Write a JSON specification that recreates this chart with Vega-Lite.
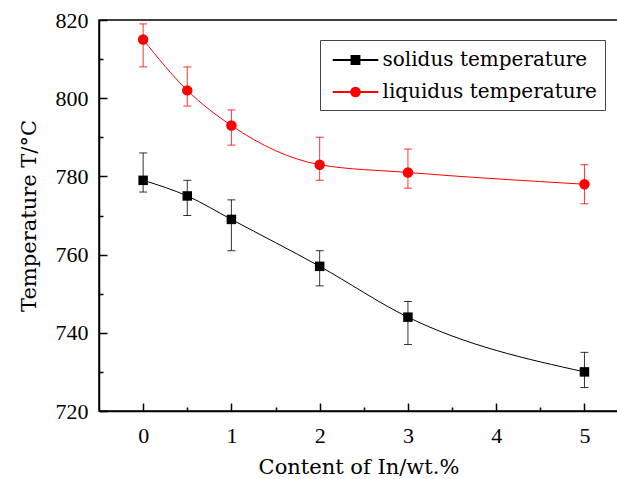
{
  "$schema": "https://vega.github.io/schema/vega-lite/v6.json",
  "width": 519,
  "height": 391,
  "autosize": "none",
  "padding": {"left": 99, "top": 20, "right": 0, "bottom": 68},
  "background": "white",
  "config": {
    "view": {"stroke": "black", "strokeWidth": 1.5},
    "axis": {"grid": false, "domainColor": "black", "domainWidth": 1.5, "tickColor": "black", "tickWidth": 1.5, "labelColor": "black", "titleColor": "black"}
  },
  "data": {
    "values": [
      {"series": "solidus temperature", "x": 0, "y": 779, "lo": 776, "hi": 786},
      {"series": "solidus temperature", "x": 0.5, "y": 775, "lo": 770, "hi": 779},
      {"series": "solidus temperature", "x": 1, "y": 769, "lo": 761, "hi": 774},
      {"series": "solidus temperature", "x": 2, "y": 757, "lo": 752, "hi": 761},
      {"series": "solidus temperature", "x": 3, "y": 744, "lo": 737, "hi": 748},
      {"series": "solidus temperature", "x": 5, "y": 730, "lo": 726, "hi": 735},
      {"series": "liquidus temperature", "x": 0, "y": 815, "lo": 808, "hi": 819},
      {"series": "liquidus temperature", "x": 0.5, "y": 802, "lo": 798, "hi": 808},
      {"series": "liquidus temperature", "x": 1, "y": 793, "lo": 788, "hi": 797},
      {"series": "liquidus temperature", "x": 2, "y": 783, "lo": 779, "hi": 790},
      {"series": "liquidus temperature", "x": 3, "y": 781, "lo": 777, "hi": 787},
      {"series": "liquidus temperature", "x": 5, "y": 778, "lo": 773, "hi": 783}
    ]
  },
  "resolve": {"axis": {"x": "independent", "y": "independent"}},
  "layer": [
    {
      "mark": {"type": "point", "filled": true, "size": 0, "opacity": 1},
      "encoding": {
        "x": {"field": "x", "type": "quantitative", "scale": {"domain": [-0.5, 5.38], "nice": false, "zero": false}, "axis": null},
        "y": {"field": "y", "type": "quantitative", "scale": {"domain": [720, 820], "nice": false, "zero": false}, "axis": null},
        "color": {"field": "series", "type": "nominal",
          "scale": {"domain": ["solidus temperature", "liquidus temperature"], "range": ["#000000", "#ff0000"]},
          "legend": {
            "orient": "none", "legendX": 221, "legendY": 20, "title": null,
            "strokeColor": "#444444", "padding": 8,
            "symbolSize": 484, "symbolOffset": 15.5, "labelOffset": 15, "rowPadding": 10,
            "labelFont": "DejaVu Serif", "labelFontSize": 20, "labelColor": "black", "labelLimit": 400
          }},
        "shape": {"field": "series", "type": "nominal",
          "scale": {"domain": ["solidus temperature", "liquidus temperature"],
            "range": [
              "M-2,-0.03H-0.38V0.03H-2Z M0.38,-0.03H2V0.03H0.38Z M-0.38,-0.38H0.38V0.38H-0.38Z",
              "M-2,-0.03H-0.4V0.03H-2Z M0.4,-0.03H2V0.03H0.4Z M0.42,0A0.42,0.42 0 1,1 -0.42,0A0.42,0.42 0 1,1 0.42,0Z"
            ]},
          "legend": {
            "orient": "none", "legendX": 221, "legendY": 20, "title": null,
            "strokeColor": "#444444", "padding": 8,
            "symbolSize": 484, "symbolOffset": 15.5, "labelOffset": 15, "rowPadding": 10,
            "labelFont": "DejaVu Serif", "labelFontSize": 20, "labelColor": "black", "labelLimit": 400
          }}
      }
    },
    {
      "mark": {"type": "line", "interpolate": "monotone", "strokeWidth": 1},
      "encoding": {
        "x": {"field": "x", "type": "quantitative",
          "axis": {"orient": "bottom", "values": [0, 1, 2, 3, 4, 5], "tickSize": -8, "labelPadding": 22, "labelFont": "Liberation Serif", "labelFontSize": 22, "title": "Content of In/wt.%", "titleFont": "DejaVu Serif", "titleFontSize": 21, "titleFontWeight": "normal", "titlePadding": 10}},
        "y": {"field": "y", "type": "quantitative",
          "axis": {"orient": "left", "values": [720, 740, 760, 780, 800, 820], "tickSize": -8, "labelPadding": 19, "labelFont": "Liberation Serif", "labelFontSize": 22, "title": "Temperature T/°C", "titleFont": "DejaVu Serif", "titleFontSize": 21, "titleFontWeight": "normal", "titlePadding": 16}},
        "color": {"field": "series", "type": "nominal", "legend": null}
      }
    },
    {
      "mark": {"type": "errorbar", "ticks": {"size": 8}, "thickness": 1, "opacity": 0.8},
      "encoding": {
        "x": {"field": "x", "type": "quantitative", "axis": null},
        "y": {"field": "lo", "type": "quantitative", "axis": null},
        "y2": {"field": "hi"},
        "color": {"field": "series", "type": "nominal", "legend": null}
      }
    },
    {
      "transform": [{"filter": "datum.series === 'solidus temperature'"}],
      "mark": {"type": "point", "filled": true, "opacity": 1, "size": 90, "shape": "square"},
      "encoding": {
        "x": {"field": "x", "type": "quantitative",
          "axis": {"orient": "bottom", "values": [0.5, 1.5, 2.5, 3.5, 4.5], "tickSize": -4, "labels": false, "domain": false, "title": null}},
        "y": {"field": "y", "type": "quantitative",
          "axis": {"orient": "left", "values": [730, 750, 770, 790, 810], "tickSize": -4, "labels": false, "domain": false, "title": null}},
        "color": {"field": "series", "type": "nominal", "legend": null}
      }
    },
    {
      "transform": [{"filter": "datum.series === 'liquidus temperature'"}],
      "mark": {"type": "point", "filled": true, "opacity": 1, "size": 110, "shape": "circle"},
      "encoding": {
        "x": {"field": "x", "type": "quantitative", "axis": null},
        "y": {"field": "y", "type": "quantitative", "axis": null},
        "color": {"field": "series", "type": "nominal", "legend": null}
      }
    }
  ]
}
